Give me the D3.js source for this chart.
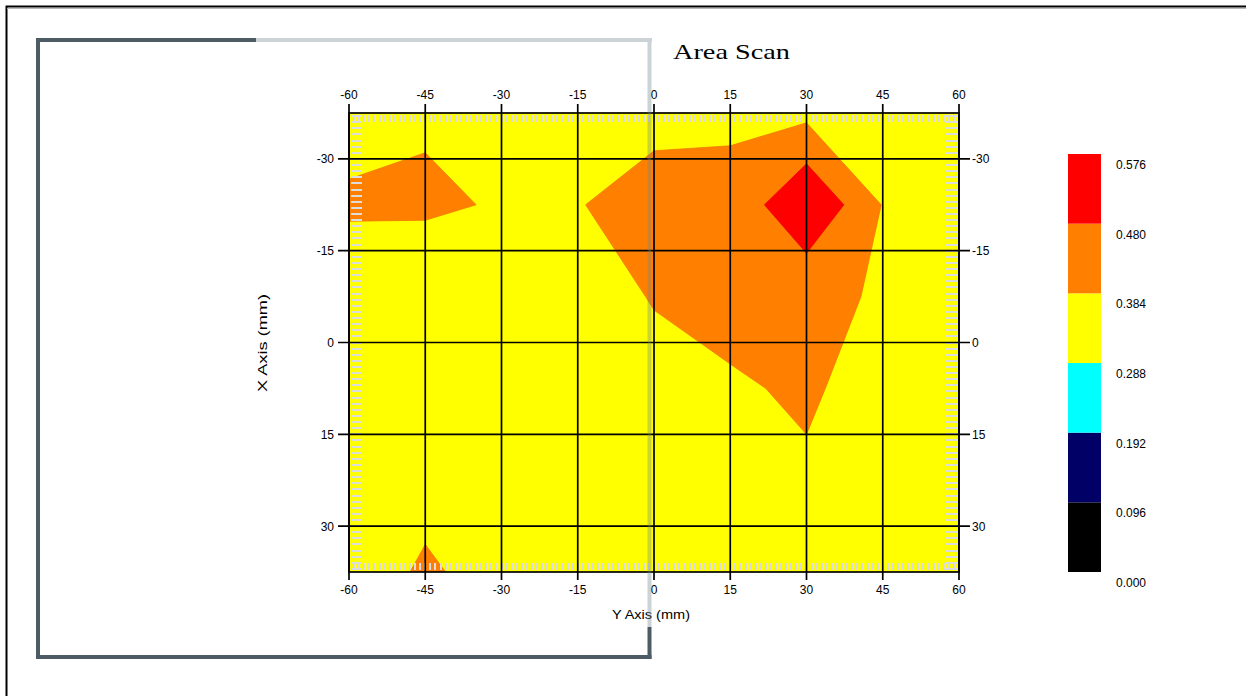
<!DOCTYPE html>
<html>
<head>
<meta charset="utf-8">
<script src="https://cdn.jsdelivr.net/npm/d3@7"></script>
<style>
  body { margin: 0; background: #fff; }
  svg { display: block; }
  text { font-family: Arial, "Liberation Sans", sans-serif; fill: #000; }
  text.title { font-family: "Liberation Serif", "DejaVu Serif", serif; }
</style>
</head>
<body>
<svg id="chart" width="1246" height="696"></svg>
<script>
// Scan grid: columns along the Y axis (mm), rows along the X axis (mm)
const scanY = [-60, -45, -30, -15, 0, 15, 30, 45, 60];
const scanX = [-37.5, -22.5, -7.5, 7.5, 22.5, 37.5];

// Measured values, one array per X row
const rowXm37_5 = [0.3325, 0.3695, 0.352, 0.348, 0.3658, 0.374, 0.361, 0.355, 0.341];
const rowXm22_5 = [0.404, 0.403, 0.3745, 0.381, 0.410, 0.402, 0.576, 0.380, 0.350];
const rowXm7_5  = [0.292, 0.290, 0.331, 0.368, 0.386, 0.4034, 0.394, 0.380, 0.346];
const rowXp7_5  = [0.318, 0.322, 0.335, 0.352, 0.3724, 0.377, 0.392, 0.3596, 0.338];
const rowXp22_5 = [0.341, 0.370, 0.350, 0.344, 0.356, 0.362, 0.376, 0.349, 0.333];
const rowXp37_5 = [0.360, 0.390, 0.3675, 0.339, 0.347, 0.352, 0.358, 0.340, 0.329];

// Axis ticks
const yAxisTicks = [-60, -45, -30, -15, 0, 15, 30, 45, 60];
const xAxisTicks = [-30, -15, 0, 15, 30];

// Colour legend
const levelBreaks = [0, 0.096, 0.192, 0.288, 0.384, 0.480, 0.576];
const levelLabels = ["0.000", "0.096", "0.192", "0.288", "0.384", "0.480", "0.576"];
const levelColors = ["#000000", "#000066", "#00ffff", "#ffff00", "#ff8000", "#ff0000"];

const svg = d3.select("#chart");

// Outer window border
svg.append("path").attr("d", "M6.5,696V6.5H1246").attr("fill", "none")
  .attr("stroke", "#000").attr("stroke-width", 2);
svg.append("line").attr("x1", 7).attr("x2", 1246).attr("y1", 8.5).attr("y2", 8.5)
  .attr("stroke", "#b8b8b8").attr("stroke-width", 1);

// Scales
const hScale = d3.scaleLinear().domain([-60, 60]).range([349, 959]);      // Y axis (horizontal)
const vScale = d3.scaleLinear().domain([-37.5, 37.5]).range([113, 572]);  // X axis (vertical)
const color = d3.scaleThreshold().domain(levelBreaks.slice(1, -1)).range(levelColors);

// Grid index space -> mm (sample i sits at i + 0.5 in d3.contours space)
const gridToY = d3.scaleLinear().domain([0.5, scanY.length - 0.5]).range([scanY[0], scanY[scanY.length - 1]]);
const gridToX = d3.scaleLinear().domain([0.5, scanX.length - 0.5]).range([scanX[0], scanX[scanX.length - 1]]);

const values = [rowXm37_5, rowXm22_5, rowXm7_5, rowXp7_5, rowXp22_5, rowXp37_5].flat();
const contours = d3.contours()
  .size([scanY.length, scanX.length])
  .thresholds(levelBreaks.slice(0, -1))(values);

const projection = d3.geoTransform({
  point(x, y) { this.stream.point(hScale(gridToY(x)), vScale(gridToX(y))); }
});
const path = d3.geoPath(projection);

const [px0, px1] = hScale.range();
const [py0, py1] = vScale.range();

svg.append("defs").append("clipPath").attr("id", "plot-clip")
  .append("rect").attr("x", px0).attr("y", py0).attr("width", px1 - px0).attr("height", py1 - py0);

const plot = svg.append("g").attr("clip-path", "url(#plot-clip)");
plot.selectAll("path.band").data(contours).join("path")
  .attr("class", "band")
  .attr("d", path)
  .attr("fill", d => color(d.value))
  .attr("stroke", d => d.value >= 0.384 ? d3.color(color(d.value)).darker(0.15) : "none")
  .attr("stroke-width", 0.8);

// Fine 1 mm marks along the inner edges
const dashColor = "#dcdcdc";
const hMinor = d3.range(-59, 60, 1);
const vMinor = d3.range(-37, 38, 1);
const marks = svg.append("g").attr("stroke", dashColor).attr("stroke-width", 2).attr("shape-rendering", "crispEdges");
marks.selectAll("line.top").data(hMinor).join("line").attr("class", "top")
  .attr("x1", d => hScale(d)).attr("x2", d => hScale(d)).attr("y1", py0 + 2).attr("y2", py0 + 9);
marks.selectAll("line.bot").data(hMinor).join("line").attr("class", "bot")
  .attr("x1", d => hScale(d)).attr("x2", d => hScale(d)).attr("y1", py1 - 9).attr("y2", py1 - 2);
marks.selectAll("line.lft").data(vMinor).join("line").attr("class", "lft")
  .attr("x1", px0 + 2).attr("x2", px0 + 13).attr("y1", d => vScale(d)).attr("y2", d => vScale(d));
marks.selectAll("line.rgt").data(vMinor).join("line").attr("class", "rgt")
  .attr("x1", px1 - 13).attr("x2", px1 - 2).attr("y1", d => vScale(d)).attr("y2", d => vScale(d));

// Grid lines and outer ticks
const grid = svg.append("g").attr("stroke", "#000").attr("stroke-width", 1.7);
grid.selectAll("line.vg").data(yAxisTicks).join("line").attr("class", "vg")
  .attr("x1", d => hScale(d)).attr("x2", d => hScale(d)).attr("y1", py0 - 9).attr("y2", py1 + 8);
grid.selectAll("line.hg").data(xAxisTicks).join("line").attr("class", "hg")
  .attr("x1", px0 - 11).attr("x2", px1 + 11).attr("y1", d => vScale(d)).attr("y2", d => vScale(d));
svg.append("rect").attr("x", px0).attr("y", py0).attr("width", px1 - px0).attr("height", py1 - py0)
  .attr("fill", "none").attr("stroke", "#000").attr("stroke-width", 1.7);

// Tick labels
const tickFont = 12;
svg.append("g").selectAll("text").data(yAxisTicks).join("text")
  .attr("x", d => hScale(d)).attr("y", py0 - 14).attr("text-anchor", "middle")
  .attr("font-size", tickFont).text(d => d);
svg.append("g").selectAll("text").data(yAxisTicks).join("text")
  .attr("x", d => hScale(d)).attr("y", py1 + 22).attr("text-anchor", "middle")
  .attr("font-size", tickFont).text(d => d);
svg.append("g").selectAll("text").data(xAxisTicks).join("text")
  .attr("x", px0 - 15).attr("y", d => vScale(d) + 4.5).attr("text-anchor", "end")
  .attr("font-size", tickFont).text(d => d);
svg.append("g").selectAll("text").data(xAxisTicks).join("text")
  .attr("x", px1 + 13).attr("y", d => vScale(d) + 4.5).attr("text-anchor", "start")
  .attr("font-size", tickFont).text(d => d);

// Axis titles
svg.append("text").attr("x", 651).attr("y", 619).attr("text-anchor", "middle")
  .attr("font-size", 13).attr("textLength", 78).attr("lengthAdjust", "spacingAndGlyphs")
  .text("Y Axis (mm)");
svg.append("text").attr("transform", "translate(267,343) rotate(-90)").attr("text-anchor", "middle")
  .attr("font-size", 13).attr("textLength", 98).attr("lengthAdjust", "spacingAndGlyphs")
  .text("X Axis (mm)");

// Title
svg.append("text").attr("class", "title").attr("x", 673).attr("y", 59)
  .attr("font-size", 21)
  .attr("textLength", 117).attr("lengthAdjust", "spacingAndGlyphs")
  .text("Area Scan");

// Colour legend
const legendScale = d3.scaleLinear().domain([0, 0.576]).range([572, 154]);
const legend = svg.append("g");
legend.selectAll("rect").data(levelColors).join("rect")
  .attr("x", 1068).attr("width", 33)
  .attr("y", (d, i) => legendScale(levelBreaks[i + 1]))
  .attr("height", (d, i) => legendScale(levelBreaks[i]) - legendScale(levelBreaks[i + 1]))
  .attr("fill", d => d);
legend.selectAll("text").data(levelLabels).join("text")
  .attr("x", 1116).attr("y", (d, i) => legendScale(levelBreaks[i]) + 15)
  .attr("font-size", 12).text(d => d);

// Surrounding panel frame drawn over the plot
const frameDark = "#4d5b64";
const frameLight = "rgba(110,128,138,0.35)";
const frame = svg.append("g").attr("stroke-width", 4).attr("fill", "none");
frame.append("line").attr("x1", 36).attr("x2", 256).attr("y1", 40).attr("y2", 40).attr("stroke", frameDark);
frame.append("line").attr("x1", 256).attr("x2", 652).attr("y1", 40).attr("y2", 40).attr("stroke", frameLight);
frame.append("line").attr("x1", 649.5).attr("x2", 649.5).attr("y1", 42).attr("y2", 627).attr("stroke", frameLight);
frame.append("line").attr("x1", 649.5).attr("x2", 649.5).attr("y1", 627).attr("y2", 659).attr("stroke", frameDark);
frame.append("line").attr("x1", 38).attr("x2", 38).attr("y1", 38).attr("y2", 659).attr("stroke", frameDark);
frame.append("line").attr("x1", 36).attr("x2", 651.5).attr("y1", 657).attr("y2", 657).attr("stroke", frameDark);
</script>
</body>
</html>
